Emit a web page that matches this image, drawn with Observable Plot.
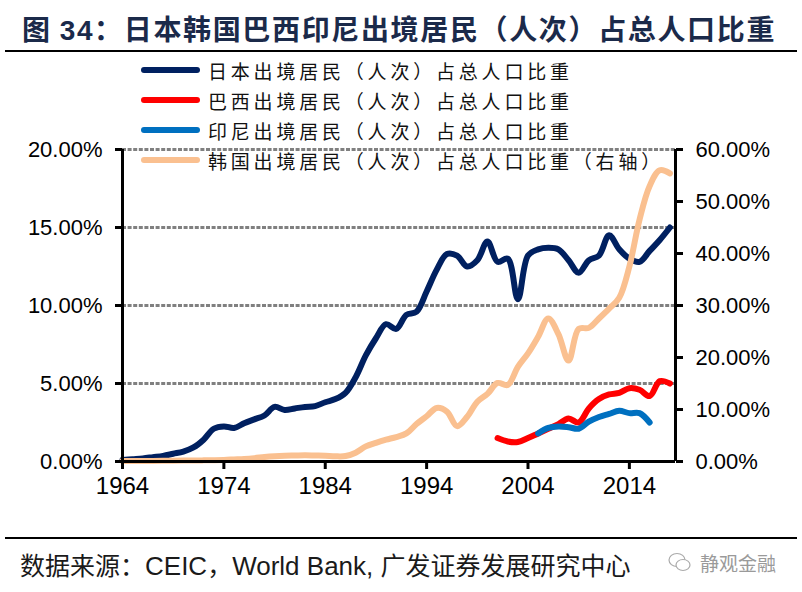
<!DOCTYPE html>
<html>
<head>
<meta charset="utf-8">
<script src="https://cdn.jsdelivr.net/npm/d3@7"></script>
<script src="https://cdn.jsdelivr.net/npm/@observablehq/plot@0.6"></script>
<style>
  html, body { margin: 0; padding: 0; background: #fff; }
  #wrap { position: relative; width: 802px; height: 592px; overflow: hidden; }
  #title { position: absolute; left: 22px; top: 8px; font-family: "Noto Sans CJK SC", sans-serif; font-weight: 700; font-size: 28px; letter-spacing: 1.65px; color: #1b2a4a; white-space: nowrap; line-height: 40px; }
  #title .num { font-family: "Liberation Sans", Arial, sans-serif; }
  .hr { position: absolute; left: 5px; width: 792px; background: #000; }
  #chart { position: absolute; left: 0; top: 60px; }
  #legend { position: absolute; left: 140px; top: 55px; font-family: "Noto Sans CJK SC", sans-serif; font-size: 19px; letter-spacing: 3.8px; color: #111; }
  .row { height: 30px; display: flex; align-items: center; white-space: nowrap; }
  .row svg { margin-right: 6px; }
  #source { position: absolute; left: 20px; top: 546px; font-family: "Noto Sans CJK SC", sans-serif; font-size: 25px; color: #1a1a1a; white-space: nowrap; }
  #source .lat { font-family: "Liberation Sans", Arial, sans-serif; font-size: 26px; }
  #wm { position: absolute; left: 668px; top: 549px; font-family: "Noto Sans CJK SC", sans-serif; font-size: 19px; color: #9a9a9a; white-space: nowrap; display: flex; align-items: center; }
  #wm svg { margin-right: 8px; }
</style>
</head>
<body>
<div id="wrap">
  <div id="title">图 <span class="num">34</span>：日本韩国巴西印尼出境居民（人次）占总人口比重</div>
  <div class="hr" style="top:50px;height:2px;"></div>
  <div id="chart"></div>
  <div id="legend"></div>
  <div class="hr" style="top:537px;height:1.5px;"></div>
  <div id="source">数据来源：<span class="lat">CEIC</span>，<span class="lat">World Bank, </span>广发证券发展研究中心</div>
  <div id="wm"><svg width="24" height="22" viewBox="0 0 24 22"><ellipse cx="9" cy="8" rx="8" ry="6.5" fill="none" stroke="#aaa" stroke-width="1.2"/><ellipse cx="15" cy="13" rx="7" ry="5.5" fill="#fff" stroke="#aaa" stroke-width="1.2"/></svg>静观金融</div>
</div>
<script>
// ---- data ----
const japanYears = d3.range(1964, 2019);
const japanValues = [0.10,0.15,0.20,0.28,0.36,0.50,0.64,0.90,1.40,2.10,
  2.25,2.15,2.45,2.70,2.95,3.50,3.30,3.40,3.50,3.55,
  3.80,4.00,4.40,5.40,6.80,7.90,8.80,8.50,9.40,9.60,
  10.90,12.30,13.30,13.20,12.50,12.90,14.10,12.80,13.00,10.40,
  13.20,13.60,13.70,13.60,12.90,12.10,12.90,13.20,14.50,13.60,
  13.00,12.80,13.50,14.20,15.00];
const koreaYears = d3.range(1964, 2019);
const koreaValues = [0.10,0.10,0.10,0.12,0.14,0.16,0.18,0.20,0.22,0.25,
  0.30,0.40,0.50,0.65,0.85,1.00,1.10,1.15,1.20,1.15,
  1.10,1.00,1.05,1.70,2.90,3.60,4.20,4.70,5.40,7.20,
  8.70,10.30,9.60,6.80,8.60,11.50,13.00,15.10,14.70,18.20,
  20.80,24.00,27.50,24.50,19.40,25.50,25.70,27.50,29.40,31.50,
  37.50,46.50,53.00,56.00,55.40];
const brazilYears = d3.range(2001, 2019);
const brazilValues = [1.50,1.28,1.25,1.50,1.80,2.10,2.40,2.75,2.50,3.40,4.00,4.30,4.40,4.70,4.60,4.20,5.15,5.00];
const indonesiaYears = d3.range(2005, 2017);
const indonesiaValues = [1.80,2.15,2.25,2.20,2.10,2.55,2.85,3.05,3.25,3.10,3.10,2.50];

const seriesNames = ["日本出境居民（人次）占总人口比重","巴西出境居民（人次）占总人口比重","印尼出境居民（人次）占总人口比重","韩国出境居民（人次）占总人口比重（右轴）"];
const seriesColors = ["#002060","#ff0000","#0070c0","#fac090"];

const leftTicks = [0,5,10,15,20];
const rightTicks = [0,10,20,30,40,50,60];
const xTicks = [1964,1974,1984,1994,2004,2014];
const gridVals = [5,10,15,20];
const xDomain = [1964, 2018.55];
const rightFactor = 3; // right axis 0-60% vs left 0-20%

const toRows = (ys, vs, s) => ys.map((y,i)=>({year:y, v:vs[i], s}));
const japan = toRows(japanYears, japanValues, 0);
const brazil = toRows(brazilYears, brazilValues, 1);
const indo = toRows(indonesiaYears, indonesiaValues, 2);
const korea = toRows(koreaYears, koreaValues.map(v=>v/rightFactor), 3);

const lineOpts = (i, w) => ({x:"year", y:"v", stroke: seriesColors[i], strokeWidth: w, curve:"catmull-rom", strokeLinecap:"round", strokeLinejoin:"round"});

const chart = Plot.plot({
  width: 802,
  height: 470,
  marginTop: 89,
  marginBottom: 69,
  marginLeft: 122,
  marginRight: 127,
  style: {fontFamily: "'Liberation Sans', Arial, sans-serif", fontSize: "22px", color: "#000", background: "transparent", overflow: "visible"},
  x: {domain: xDomain},
  y: {domain: [0, 20]},
  marks: [
    Plot.ruleY(gridVals, {stroke: "#808080", strokeWidth: 3, strokeDasharray: "4,1.6"}),
    Plot.line(japan, lineOpts(0, 6)),
    Plot.line(brazil, lineOpts(1, 6)),
    Plot.line(indo, lineOpts(2, 6)),
    Plot.line(korea, lineOpts(3, 6)),
    Plot.ruleX([xDomain[0], xDomain[1]], {stroke: "#000", strokeWidth: 3}),
    Plot.ruleY([0], {stroke: "#000", strokeWidth: 3}),
    Plot.axisY({ticks: leftTicks, tickFormat: d => d.toFixed(2) + "%", tickSize: 7, tickPadding: 13, strokeWidth: 3, label: null, fontSize: 22}),
    Plot.axisY({anchor: "right", ticks: rightTicks.map(v => v / rightFactor), tickFormat: d => (d * rightFactor).toFixed(2) + "%", tickSize: 7, tickPadding: 13, strokeWidth: 3, label: null, fontSize: 22}),
    Plot.axisX({ticks: xTicks, tickFormat: d => String(d), tickSize: 8, tickPadding: 7, strokeWidth: 3, label: null, fontSize: 24, fontFamily: "'Liberation Sans Narrow', 'Liberation Sans', Arial, sans-serif"})
  ]
});
document.getElementById("chart").appendChild(chart);

// legend
const legend = document.getElementById("legend");
seriesNames.forEach((name, i) => {
  const row = document.createElement("div");
  row.className = "row";
  row.innerHTML = `<svg width="62" height="12"><line x1="4" y1="6" x2="57" y2="6" stroke="${seriesColors[i]}" stroke-width="6" stroke-linecap="round"/></svg><span>${name}</span>`;
  legend.appendChild(row);
});
</script>
</body>
</html>
